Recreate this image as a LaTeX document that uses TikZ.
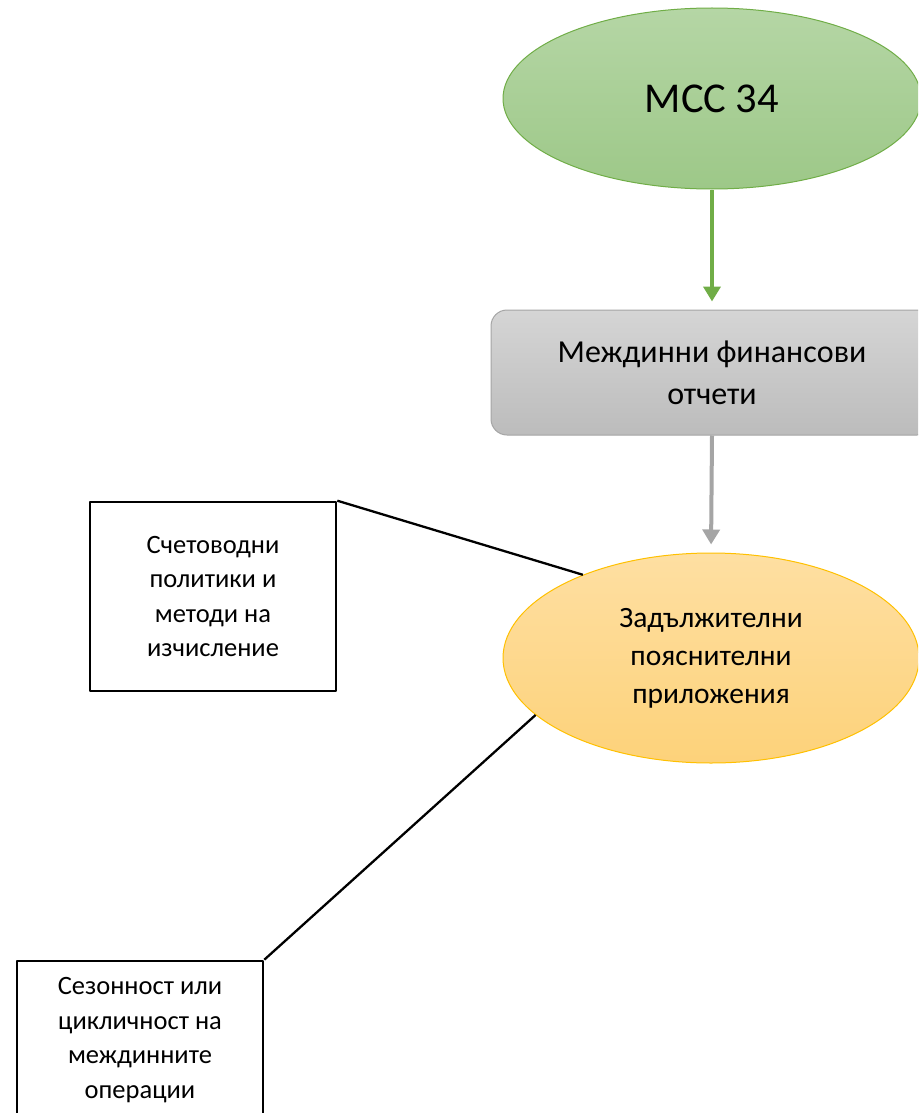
\documentclass[tikz,border=0pt]{standalone}
\usepackage{fontspec}
\setmainfont{Carlito}
\usetikzlibrary{shapes.geometric,arrows.meta}
\definecolor{zelen}{HTML}{70AD47}
\definecolor{zelenA}{HTML}{B5D6A5}
\definecolor{zelenB}{HTML}{9DC888}
\definecolor{siv}{HTML}{A5A5A5}
\definecolor{sivA}{HTML}{D5D5D5}
\definecolor{sivB}{HTML}{BCBCBC}
\definecolor{zlato}{HTML}{FFC000}
\definecolor{zlatoA}{HTML}{FEDFA2}
\definecolor{zlatoB}{HTML}{FDD27A}
\begin{document}
\begin{tikzpicture}[x=1pt,y=-1pt,line join=round,
	kutia/.style={draw,line width=2.6pt,minimum width=246pt,align=center,font=\fontsize{26.5}{34.5}\selectfont},
	strelka/.style={line width=4pt,-{Triangle[length=15pt,width=17pt]},shorten >=8pt}]
	\clip (0,0) rectangle (918,1113);
	\node[ellipse,draw=zelen,line width=1pt,top color=zelenA,bottom color=zelenB,minimum width=418pt,minimum height=181pt,font=\fontsize{42.5}{50}\selectfont] (mcc) at (712,98.5) {МСС 34};
	\node[draw=siv,line width=1pt,rounded corners=16pt,top color=sivA,bottom color=sivB,minimum width=442pt,minimum height=125pt,align=center,font=\fontsize{32}{42}\selectfont] (otch) at (712,372.5) {Междинни финансови\\отчети};
	\node[ellipse,draw=zlato,line width=1pt,top color=zlatoA,bottom color=zlatoB,minimum width=416pt,minimum height=210pt,align=center,font=\fontsize{29.5}{38}\selectfont] (pril) at (711,658) {Задължителни\\пояснителни\\приложения};
	\node[kutia,minimum height=189pt] (pol) at (213,596.5) {Счетоводни\\политики и\\методи на\\изчисление};
	\node[kutia,minimum height=158pt] (sez) at (140,1040) {Сезонност или\\цикличност на\\междинните\\операции};
	\draw[strelka,draw=zelen] (mcc.south) -- (otch.north);
	\draw[strelka,draw=siv] (otch.south) -- (pril.north);
	\draw[line width=2.3pt] (pol.north east) -- (pril.147);
	\draw[line width=2.3pt] (sez.north east) -- (pril.198);
\end{tikzpicture}
\end{document}
